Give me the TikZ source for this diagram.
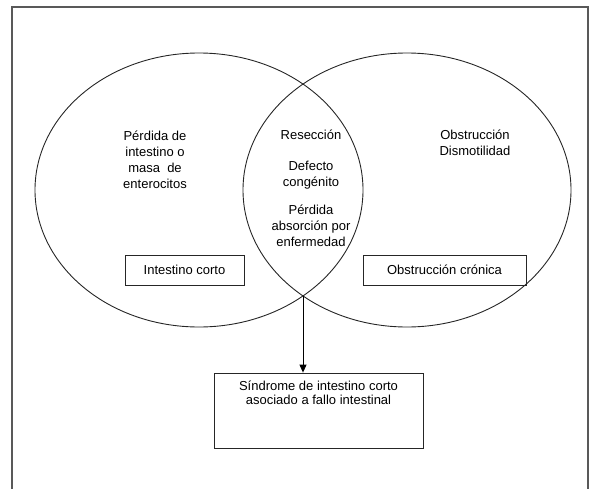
\documentclass[tikz,border=0pt]{standalone}
\usepackage{fontspec}
\setmainfont{Liberation Sans}
\usetikzlibrary{positioning,arrows.meta}

\begin{document}
\begin{tikzpicture}[x=1pt,y=-1pt,
	txt/.style={align=center, font=\fontsize{13}{16}\selectfont},
	box/.style={draw=black!85, line width=0.8pt, font=\fontsize{13}{16}\selectfont, minimum height=30pt, inner sep=2pt},
	ring/.style={draw=black!85, line width=0.9pt}]

	% ---- frame

	\useasboundingbox (0,0) rectangle (589,488);
	\draw[gray!70!black, line width=1.5pt] (12,494) -- (12,7) -- (588,7) -- (588,494);

	% ---- the two sets

	\def\rx{164}
	\def\ry{137}

	\coordinate (L) at (199,190);
	\coordinate (R) at (407,190);
	\draw[ring] (L) ellipse [x radius=\rx, y radius=\ry];
	\draw[ring] (R) ellipse [x radius=\rx, y radius=\ry];

	% lower meeting point of the sets
	\coordinate (X) at (303,296);

	% ---- texts

	\node[txt] (perdida) at (155,160) {Pérdida de\\intestino o\\masa~ de\\enterocitos};
	\node[txt] (reseccion) at (311,135) {Resección};
	\node[txt] (defecto) at (311,175) {Defecto\\congénito};
	\node[txt] (absorcion) at (311,226) {Pérdida\\absorción por\\enfermedad};
	\node[txt] (obstruccion) at (475,143) {Obstrucción\\Dismotilidad};

	\node[box, minimum width=119pt] (corto) at (184.5,270) {Intestino corto};
	\node[box, minimum width=163pt] (cronica) at (444.5,270) {Obstrucción crónica};

	% ---- result

	\node[box, minimum width=209pt, minimum height=75pt] (sindrome) at (318.5,410.5) {};
	\node[txt, font=\fontsize{13}{14}\selectfont, below=5pt of sindrome.north] (sindtxt) {Síndrome de intestino corto\\asociado a fallo intestinal};

	\draw[-{Triangle[length=8pt,width=7pt]}, line width=0.9pt] (X) -- (X |- sindrome.north);

\end{tikzpicture}
\end{document}
